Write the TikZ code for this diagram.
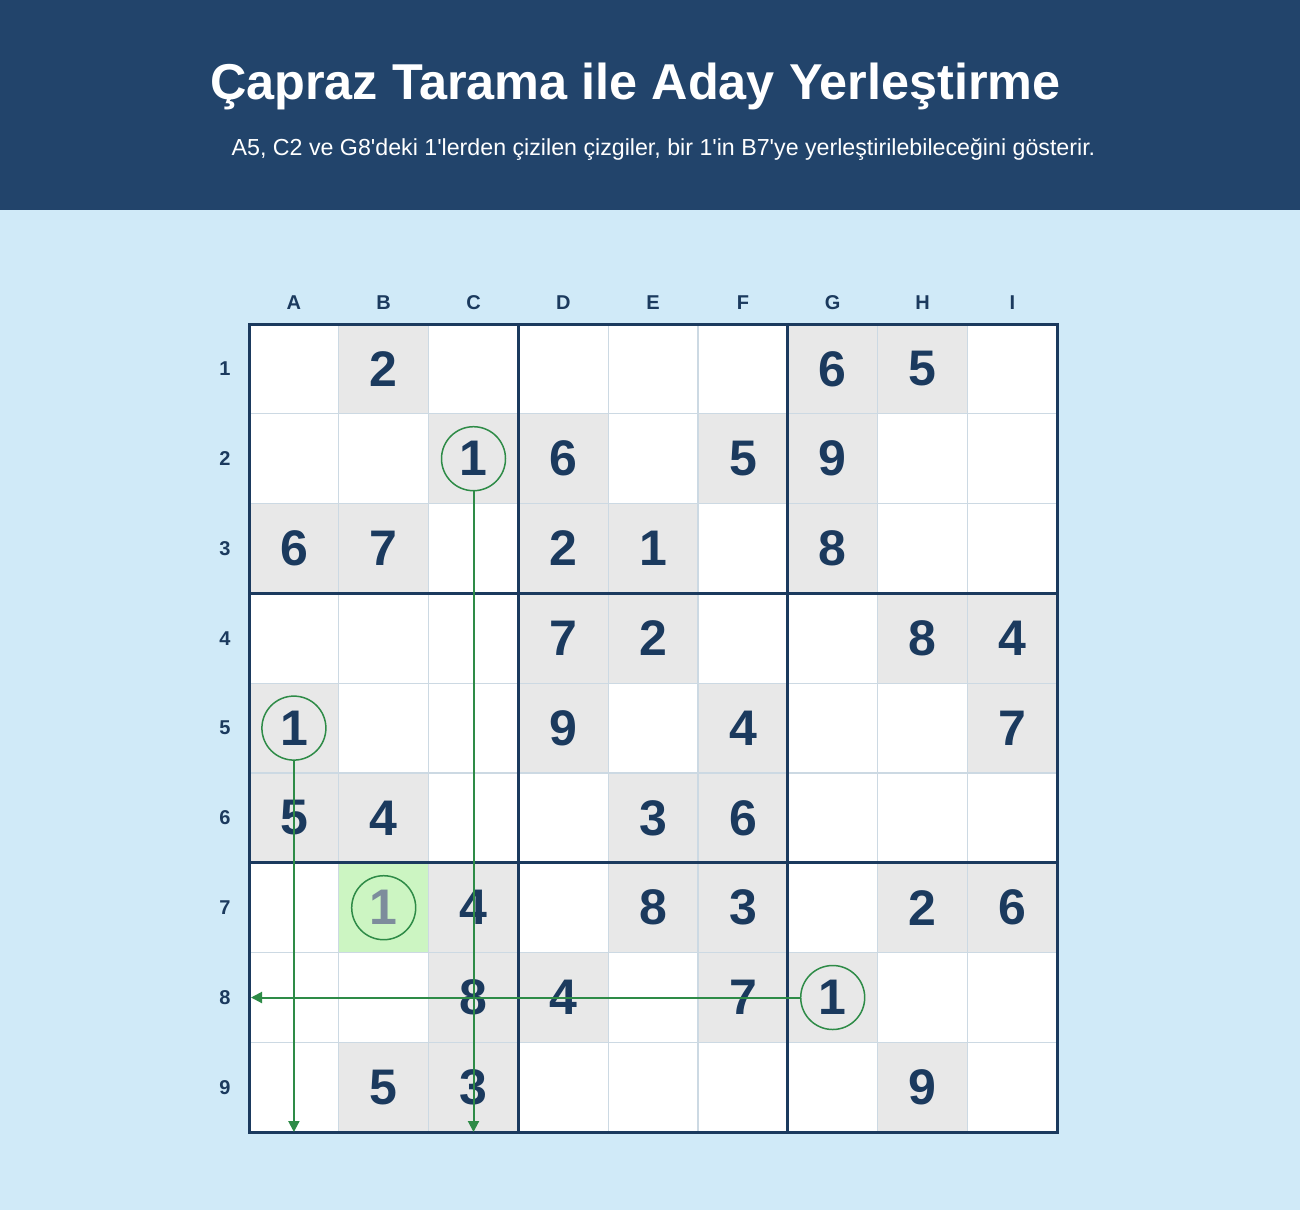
\documentclass[tikz,border=0pt]{standalone}
\usepackage{fontspec}
\newfontfamily\arial{Liberation Sans}
\usetikzlibrary{arrows.meta}
\definecolor{hdr}{HTML}{22446B}
\definecolor{bgc}{HTML}{D0EAF8}
\definecolor{navy}{HTML}{1B3A5E}
\definecolor{thinc}{HTML}{CCD9E3}
\definecolor{given}{HTML}{E8E8E8}
\definecolor{grn}{HTML}{2E8B47}
\definecolor{cand}{HTML}{CCF5C2}
\definecolor{candnum}{HTML}{7D8C9C}
\tikzset{
  titletext/.style={text=white,font=\arial\bfseries\fontsize{50.4}{58}\selectfont,inner sep=0pt,anchor=base},
  subtext/.style={text=white,font=\arial\fontsize{23.2}{28}\selectfont,inner sep=0pt,anchor=base},
  lbl/.style={text=navy,font=\arial\bfseries\fontsize{20}{24}\selectfont,inner sep=0pt},
  digit/.style={text=navy,font=\arial\bfseries\fontsize{50}{60}\selectfont,inner sep=0pt},
  canddigit/.style={text=candnum,font=\arial\bfseries\fontsize{50}{60}\selectfont,inner sep=0pt},
  ring/.style={circle,draw=grn,line width=1.5pt,minimum size=64pt,inner sep=0pt},
  scanline/.style={draw=grn,line width=2pt,-{Triangle[length=11pt,width=11pt]}},
  thinline/.style={draw=thinc,line width=1.2pt},
  thickline/.style={draw=navy,line width=3pt},
}
\begin{document}
\begin{tikzpicture}[x=1pt,y=-1pt]
\useasboundingbox (0,0) rectangle (1300,1210);
\fill[bgc] (0,0) rectangle (1300,1210);
\fill[hdr] (0,0) rectangle (1300,210);
\node[titletext] (title) at (635.5,99) {Çapraz Tarama ile Aday Yerleştirme};
\node[subtext] (subtitle) at (663.5,155) {A5, C2 ve G8'deki 1'lerden çizilen çizgiler, bir 1'in B7'ye yerleştirilebileceğini gösterir.};
\def\ox{249}\def\oy{324}\def\cs{89.8}
% grid background
\fill[white] (\ox,\oy) rectangle ({\ox+9*\cs},{\oy+9*\cs});
% given cells
\foreach \c/\r/\d in {2/1/2,7/1/6,8/1/5,
  3/2/1,4/2/6,6/2/5,7/2/9,
  1/3/6,2/3/7,4/3/2,5/3/1,7/3/8,
  4/4/7,5/4/2,8/4/8,9/4/4,
  1/5/1,4/5/9,6/5/4,9/5/7,
  1/6/5,2/6/4,5/6/3,6/6/6,
  3/7/4,5/7/8,6/7/3,8/7/2,9/7/6,
  3/8/8,4/8/4,6/8/7,7/8/1,
  2/9/5,3/9/3,8/9/9}{
  \fill[given] ({\ox+(\c-1)*\cs},{\oy+(\r-1)*\cs}) rectangle ({\ox+\c*\cs},{\oy+\r*\cs});
}
\fill[cand] ({\ox+1*\cs},{\oy+6*\cs}) rectangle ({\ox+2*\cs},{\oy+7*\cs});
% thin lines
\foreach \k in {1,2,4,5,7,8}{
  \draw[thinline] ({\ox+\k*\cs},\oy) -- ({\ox+\k*\cs},{\oy+9*\cs});
  \draw[thinline] (\ox,{\oy+\k*\cs}) -- ({\ox+9*\cs},{\oy+\k*\cs});
}
% thick lines
\foreach \k in {3,6}{
  \draw[thickline] ({\ox+\k*\cs},\oy) -- ({\ox+\k*\cs},{\oy+9*\cs});
  \draw[thickline] (\ox,{\oy+\k*\cs}) -- ({\ox+9*\cs},{\oy+\k*\cs});
}
\draw[thickline] (\ox,\oy) rectangle ({\ox+9*\cs},{\oy+9*\cs});
% labels
\foreach \L [count=\c] in {A,B,C,D,E,F,G,H,I}{
  \node[lbl] (col-\L) at ({\ox+(\c-0.5)*\cs},303) {\L};
}
\foreach \r in {1,...,9}{
  \node[lbl] (row-\r) at (225,{\oy+(\r-0.5)*\cs}) {\r};
}
% digits
\foreach \c/\r/\d in {2/1/2,7/1/6,8/1/5,
  3/2/1,4/2/6,6/2/5,7/2/9,
  1/3/6,2/3/7,4/3/2,5/3/1,7/3/8,
  4/4/7,5/4/2,8/4/8,9/4/4,
  1/5/1,4/5/9,6/5/4,9/5/7,
  1/6/5,2/6/4,5/6/3,6/6/6,
  3/7/4,5/7/8,6/7/3,8/7/2,9/7/6,
  3/8/8,4/8/4,6/8/7,7/8/1,
  2/9/5,3/9/3,8/9/9}{
  \node[digit] (d-\c-\r) at ({\ox+(\c-0.5)*\cs},{\oy+(\r-0.5)*\cs}) {\d};
}
\node[canddigit] (d-2-7) at ({\ox+1.5*\cs},{\oy+6.5*\cs}) {1};
% rings
\node[ring] (ringA5) at ({\ox+0.5*\cs},{\oy+4.5*\cs}) {};
\node[ring] (ringC2) at ({\ox+2.5*\cs},{\oy+1.5*\cs}) {};
\node[ring] (ringG8) at ({\ox+6.5*\cs},{\oy+7.5*\cs}) {};
\node[ring] (ringB7) at ({\ox+1.5*\cs},{\oy+6.5*\cs}) {};
% scan lines
\coordinate (endA) at ({\ox+0.5*\cs},1132);
\coordinate (endC) at ({\ox+2.5*\cs},1132);
\coordinate (end8) at (251,{\oy+7.5*\cs});
\draw[scanline] (ringA5.south) -- (endA);
\draw[scanline] (ringC2.south) -- (endC);
\draw[scanline] (ringG8.west) -- (end8);
\end{tikzpicture}
\end{document}
